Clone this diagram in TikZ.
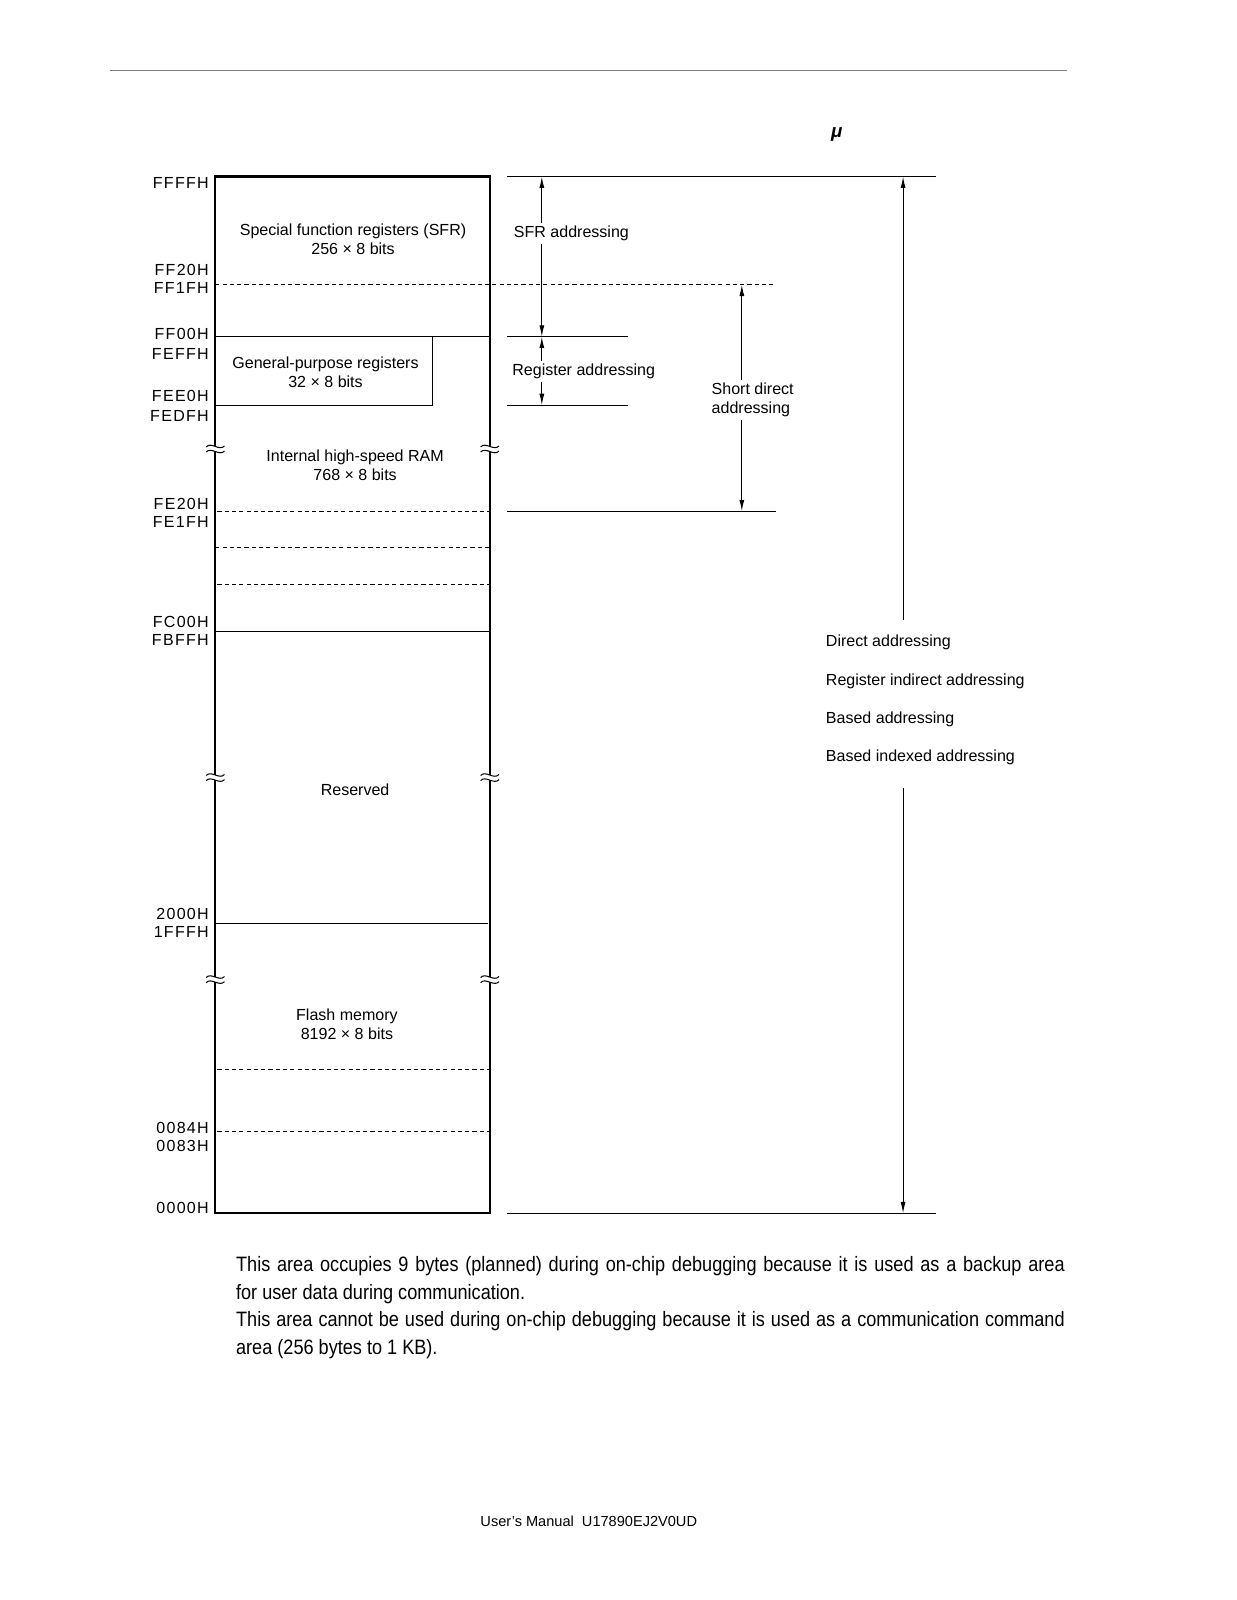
\documentclass[tikz,border=0pt]{standalone}
\usepackage{fontspec}
\setmainfont{Liberation Sans}
\newfontfamily\addrfont[LetterSpace=8]{Liberation Sans}
\newfontfamily\notefont[FakeStretch=0.87]{Liberation Sans}
\usetikzlibrary{arrows.meta}

% break mark on a vertical edge
\newcommand{\gapmark}[2]{%
  \fill[white] (#1-9,#2-2.5) rectangle (#1+9,#2+2.5);
  \draw[thinline] (#1-9,#2-2) .. controls (#1-4,#2-7.5) and (#1+4,#2+2.5) .. (#1+9,#2-3);
  \draw[thinline] (#1-9,#2+3) .. controls (#1-4,#2-2.5) and (#1+4,#2+7.5) .. (#1+9,#2+2);
}

\tikzset{
  memtext/.style={font=\fontsize{7.7}{9.1}\selectfont, align=center, inner sep=1pt},
  addrlab/.style={font=\addrfont\fontsize{7.7}{9}\selectfont, anchor=east, inner sep=0pt},
  modelab/.style={font=\fontsize{7.7}{9.1}\selectfont, fill=white, inner sep=1.5pt},
  boxline/.style={line width=1pt},
  thinline/.style={line width=0.5pt},
  dashline/.style={line width=0.5pt, dash pattern=on 2pt off 1.5pt},
  spanarrow/.style={line width=0.5pt, {Latex[length=5.5pt,width=2.4pt]}-{Latex[length=5.5pt,width=2.4pt]}},
  onearrow/.style={line width=0.5pt, -{Latex[length=5.5pt,width=2.4pt]}},
}

\begin{document}
\begin{tikzpicture}[x=0.49pt,y=-0.49pt]
\useasboundingbox (0,0) rectangle (1212,1568);

% page rule and title remnant
\draw[gray, line width=0.8pt] (108,69) -- (1046,69);
\node[font=\bfseries\itshape\fontsize{9}{10}\selectfont] (mu) at (820,132) {μ};

% memory map outline
\draw[boxline] (211,173) rectangle (480,1189);

% region borders
\draw[dashline] (211,279) -- (760,279);
\draw[thinline] (211,330) -- (480,330);
\draw[thinline] (424,330) -- (424,397) -- (211,397);
\draw[dashline] (213,501) -- (480,501);
\draw[dashline] (211,537) -- (480,537);
\draw[dashline] (213,573) -- (480,573);
\draw[thinline] (211,619) -- (480,619);
\draw[thinline] (211,905) -- (478,905);
\draw[dashline] (213,1048) -- (480,1048);
\draw[dashline] (213,1109) -- (480,1109);

% breaks
\foreach \y in {440,762,960} {
  \gapmark{211}{\y}
  \gapmark{480}{\y}
}

% region texts
\node[memtext] (sfr) at (346,234.5) {Special function registers (SFR)\\256 × 8 bits};
\node[memtext] (gpr) at (319,365) {General-purpose registers\\32 × 8 bits};
\node[memtext] (ram) at (348,456) {Internal high-speed RAM\\768 × 8 bits};
\node[memtext] (rsv) at (348,773.5) {Reserved};
\node[memtext] (flash) at (340,1004) {Flash memory\\8192 × 8 bits};

% addresses
\foreach \name/\lab/\y in {a1/FFFFH/179.5, a2/FF20H/264.5, a3/FF1FH/282.5, a4/FF00H/327.5,
    a5/FEFFH/346.5, a6/FEE0H/388.5, a7/FEDFH/407.5, a8/FE20H/493.5, a9/FE1FH/511.5,
    a10/FC00H/609.5, a11/FBFFH/627.5, a12/2000H/895.5, a13/1FFFH/913.5,
    a14/0084H/1105.5, a15/0083H/1123.5, a16/0000H/1183.5}
  \node[addrlab] (\name) at (205,\y) {\lab};

% addressing ranges
\draw[thinline] (497,173) -- (917,173);
\draw[thinline] (497,330) -- (615,330);
\draw[thinline] (497,397) -- (615,397);
\draw[thinline] (497,501) -- (760,501);
\draw[thinline] (497,1189) -- (917,1189);

\coordinate (sfrtop) at (531,173);
\coordinate (sfrbot) at (531,330);
\coordinate (regbot) at (531,397);
\coordinate (shtop) at (727,279);
\coordinate (shbot) at (727,501);
\coordinate (dirtop) at (885,173);
\coordinate (dirbot) at (885,1189);

\draw[spanarrow] (sfrtop) -- (sfrbot);
\draw[spanarrow] (sfrbot) -- (regbot);
\draw[spanarrow] (shtop) -- (shbot);
\node[modelab] (sfradr) at (560,229) {SFR addressing};
\node[modelab] (regadr) at (572,364) {Register addressing};
\node[modelab, align=left, anchor=west] (shadr) at (694,392) {Short direct\\addressing};

\node[font=\fontsize{7.7}{18.4}\selectfont, align=left, anchor=north west, inner sep=0pt] (diradr) at (809,622)
  {Direct addressing\\Register indirect addressing\\Based addressing\\Based indexed addressing};
\draw[onearrow] (885,608) -- (dirtop);
\draw[onearrow] (885,772) -- (dirbot);

% notes
\node[anchor=north west, text width=397.9pt, align=justify, inner sep=0pt,
      font=\notefont\fontsize{10}{13.2}\selectfont] (note) at (231,1231)
  {This area occupies 9 bytes (planned) during on-chip debugging because it is used as a backup area\linebreak
   for user data during communication.\\
   This area cannot be used during on-chip debugging because it is used as a communication command\linebreak
   area (256 bytes to 1 KB).};

\node[font=\fontsize{7}{8}\selectfont] (foot) at (577,1491) {User’s Manual\ \ U17890EJ2V0UD};
\end{tikzpicture}
\end{document}
